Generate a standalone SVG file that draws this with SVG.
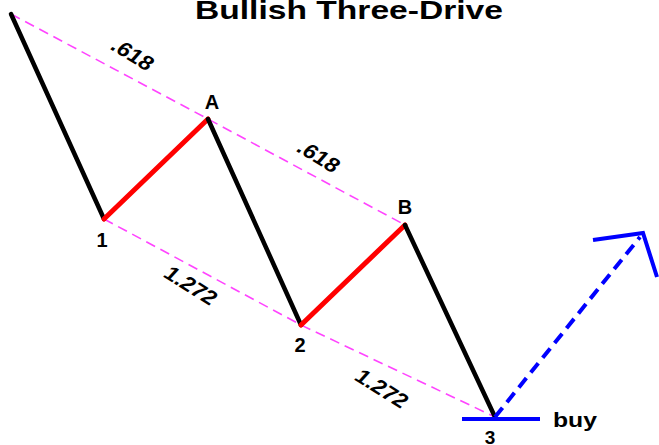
<svg xmlns="http://www.w3.org/2000/svg" width="659" height="445" viewBox="0 0 659 445">
<style>
.t{font-family:"Liberation Sans",Arial,sans-serif;font-weight:bold;fill:#000}
.blk{stroke:#000;stroke-width:4.5;fill:none;stroke-linecap:round}
.red{stroke:#ff0000;stroke-width:5;fill:none;stroke-linecap:round}
.pink{stroke:#ff44ff;stroke-width:1.6;fill:none;stroke-dasharray:10 6}
.blue{stroke:#0000ff;stroke-width:4;fill:none}
</style>
<rect width="659" height="445" fill="#fff"/>
<g id="title"><text class="t" x="349" y="19" font-size="26" text-anchor="middle" textLength="308" lengthAdjust="spacingAndGlyphs">Bullish Three-Drive</text></g>
<g id="connectors">
<polyline class="pink" points="11,14 208,119 405,225"/>
<polyline class="pink" points="104,219 301,325 495,417"/>
<line class="blk" x1="11" y1="14" x2="104" y2="219"/>
<line class="red" x1="104" y1="219" x2="208" y2="119"/>
<line class="blk" x1="208" y1="119" x2="301" y2="325"/>
<line class="red" x1="301" y1="325" x2="405" y2="225"/>
<line class="blk" x1="405" y1="225" x2="495" y2="417"/>
<line class="blue" x1="495" y1="417" x2="640" y2="237" stroke-dasharray="12 7"/>
<polyline class="blue" points="593,240 643,233 657,277" stroke-width="5"/>
<line class="blue" x1="462" y1="419" x2="540" y2="419" stroke-width="4.5"/>
</g>
<g id="label-618-1"><text class="t" font-size="20" text-anchor="middle" transform="translate(128,60) scale(1.2,1) rotate(36)">.618</text></g>
<g id="label-618-2"><text class="t" font-size="20" text-anchor="middle" transform="translate(314,162) scale(1.2,1) rotate(36)">.618</text></g>
<g id="label-1272-1"><text class="t" font-size="20" text-anchor="middle" transform="translate(186,291) scale(1.2,1) rotate(37)">1.272</text></g>
<g id="label-1272-2"><text class="t" font-size="20" text-anchor="middle" transform="translate(377,394) scale(1.2,1) rotate(37)">1.272</text></g>
<g id="node-A"><text class="t" x="212" y="109" font-size="20" text-anchor="middle">A</text></g>
<g id="node-B"><text class="t" x="405" y="214" font-size="20" text-anchor="middle">B</text></g>
<g id="node-1"><text class="t" x="102" y="247" font-size="20" text-anchor="middle">1</text></g>
<g id="node-2"><text class="t" x="300" y="352" font-size="20" text-anchor="middle">2</text></g>
<g id="node-3"><text class="t" x="490" y="444" font-size="19" text-anchor="middle">3</text></g>
<g id="buy"><text class="t" x="553" y="427" font-size="21" textLength="44" lengthAdjust="spacingAndGlyphs">buy</text></g>
</svg>
